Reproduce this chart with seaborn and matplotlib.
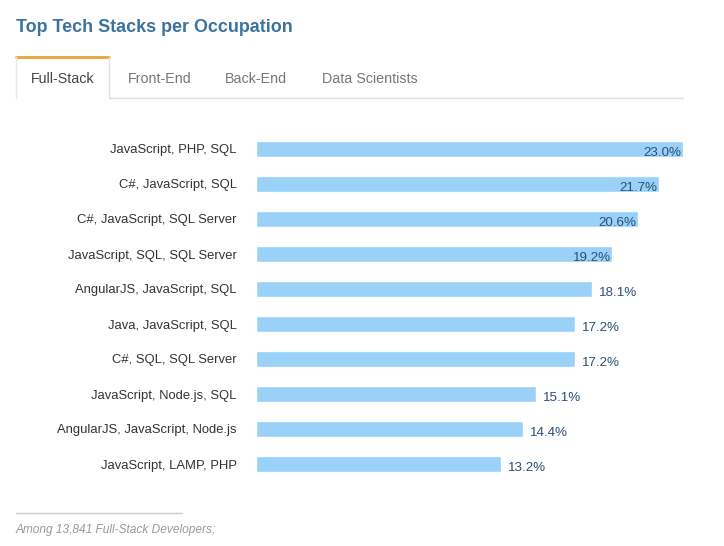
import matplotlib
matplotlib.use('Agg')
import matplotlib.pyplot as plt
import seaborn as sns
import pandas as pd
from matplotlib.lines import Line2D

# 데이터
stacks = ['JavaScript, PHP, SQL', 'C#, JavaScript, SQL', 'C#, JavaScript, SQL Server',
          'JavaScript, SQL, SQL Server', 'AngularJS, JavaScript, SQL', 'Java, JavaScript, SQL',
          'C#, SQL, SQL Server', 'JavaScript, Node.js, SQL', 'AngularJS, JavaScript, Node.js',
          'JavaScript, LAMP, PHP']
shares = [23.0, 21.7, 20.6, 19.2, 18.1, 17.2, 17.2, 15.1, 14.4, 13.2]
tabs = ['Full-Stack', 'Front-End', 'Back-End', 'Data Scientists']

df = pd.DataFrame({'stack': stacks, 'share': shares})

sns.set_style('white')
plt.rcParams['font.family'] = ['Liberation Sans', 'DejaVu Sans']

W, H = 724, 546
fig = plt.figure(figsize=(W / 100, H / 100), dpi=100)

def fx(px):
    return px / W

def fy(py):
    return 1 - py / H

# 막대 영역
ax = fig.add_axes([fx(256), fy(481.5), fx(683) - fx(256), (481.5 - 131.5) / H])
sns.barplot(data=df, x='share', y='stack', orient='h', color='#99d1f8',
            saturation=1, width=16 / 35, ax=ax)
ax.set_xlim(0, 23)
ax.set_xlabel('')
ax.set_ylabel('')
ax.set_xticks([])
sns.despine(ax=ax, left=True, bottom=True)
ax.tick_params(axis='y', length=0, pad=14, labelsize=9.4, labelcolor='#333333')

# 값 표시
for i, v in enumerate(shares):
    if v > 19:
        ax.text(v - 0.1, i + 0.12, f'{v:.1f}%', ha='right', va='center',
                fontsize=9.6, color='#2b4f78')
    else:
        ax.text(v + 0.35, i + 0.12, f'{v:.1f}%', ha='left', va='center',
                fontsize=9.6, color='#2b4f78')

# 제목
fig.text(fx(16), fy(28), 'Top Tech Stacks per Occupation', fontsize=12.9,
         fontweight='bold', color='#3b73a0', ha='left', va='center')

# 탭
tab_x = [31, 128, 225, 322]
for i, (t, x) in enumerate(zip(tabs, tab_x)):
    fig.text(fx(x), fy(79), t, fontsize=10.3, color='#444444' if i == 0 else '#777777',
             ha='left', va='center')

lines = [
    ([16, 109], [56.5, 56.5], '#e8a53a', 2),
    ([16, 16], [57, 98], '#e6e6e6', 1),
    ([109, 109], [57, 98], '#e3e3e3', 1),
    ([109, 683], [98, 98], '#dddddd', 1),
    ([16, 182], [513, 513], '#cccccc', 1),
]
for xs, ys, c, lw in lines:
    fig.add_artist(Line2D([fx(x) for x in xs], [fy(y) for y in ys], color=c,
                          linewidth=lw, transform=fig.transFigure))

# 각주
fig.text(fx(16), fy(530), 'Among 13,841 Full-Stack Developers;', fontsize=8.6,
         style='italic', color='#999999', ha='left', va='center')

fig.savefig('out.png', dpi=100)
